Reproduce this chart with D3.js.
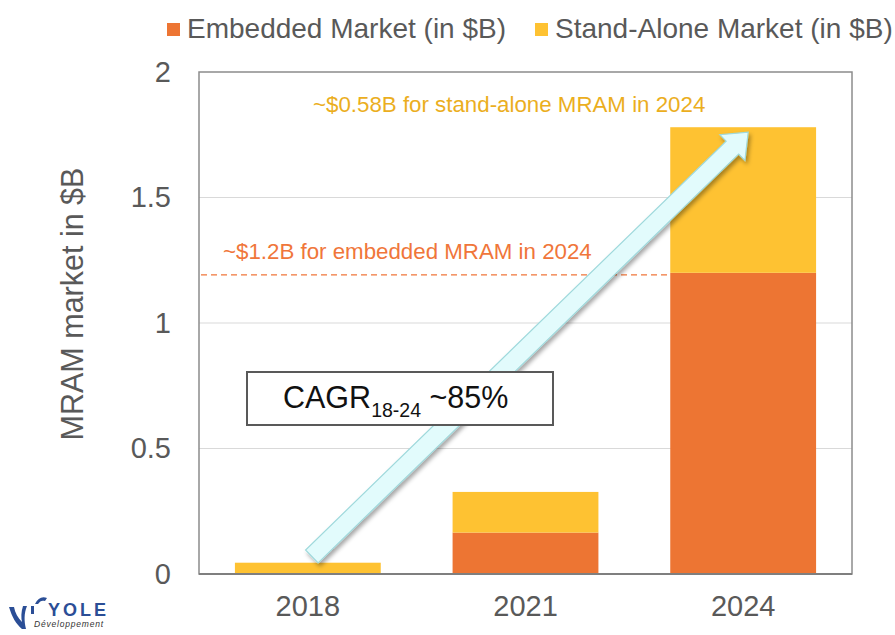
<!DOCTYPE html>
<html>
<head>
<meta charset="utf-8">
<script src="https://cdn.jsdelivr.net/npm/d3@7"></script>
<style>
  body { margin: 0; background: #fff; }
  svg { font-family: "Liberation Sans", Arial, sans-serif; }
</style>
</head>
<body>
<svg id="chart" width="895" height="635"></svg>
<script>
// data
const years = ["2018", "2021", "2024"];
const embedded = [0.0, 0.165, 1.2];
const standAlone = [0.045, 0.162, 0.58];
const seriesNames = ["Embedded Market (in $B)", "Stand-Alone Market (in $B)"];
const yTicks = [0, 0.5, 1, 1.5, 2];

const colors = ["#ED7533", "#FEC232"];
const textGray = "#595959";

let svg = d3.select("#chart");
let margin = {left: 199, right: 43, top: 72, bottom: 61};
let W = 895, H = 635;

let x = d3.scaleBand().domain(years).range([margin.left, W - margin.right]).paddingInner(0.33).paddingOuter(0.165);
let y = d3.scaleLinear().domain([0, 2]).range([H - margin.bottom, margin.top]);

// drop shadow for the arrow
let defs = svg.append("defs");
let f = defs.append("filter").attr("id", "shadow").attr("x", "-20%").attr("y", "-20%").attr("width", "140%").attr("height", "140%");
f.append("feDropShadow").attr("dx", 2).attr("dy", 3).attr("stdDeviation", 2).attr("flood-color", "#000").attr("flood-opacity", 0.35);

// gridlines
svg.append("g").selectAll("line").data(yTicks.filter(d => d > 0 && d < 2)).join("line")
  .attr("x1", margin.left).attr("x2", W - margin.right)
  .attr("y1", d => y(d)).attr("y2", d => y(d))
  .attr("stroke", "#d9d9d9").attr("stroke-width", 1.2);

// stacked bars
let stacked = d3.stack().keys([0, 1]).value((d, k) => d[k])(years.map((yr, i) => [embedded[i], standAlone[i]]));
svg.append("g").selectAll("g").data(stacked).join("g")
  .attr("fill", (d, i) => colors[i])
  .selectAll("rect").data(d => d).join("rect")
  .attr("x", (d, i) => x(years[i]))
  .attr("width", x.bandwidth())
  .attr("y", d => y(d[1]))
  .attr("height", d => y(d[0]) - y(d[1]));

// frame
svg.append("rect")
  .attr("x", margin.left).attr("y", margin.top)
  .attr("width", W - margin.left - margin.right).attr("height", H - margin.top - margin.bottom)
  .attr("fill", "none").attr("stroke", "#8c8c8c").attr("stroke-width", 1.5);
svg.append("line")
  .attr("x1", margin.left).attr("x2", W - margin.right)
  .attr("y1", y(0)).attr("y2", y(0))
  .attr("stroke", "#7f7f7f").attr("stroke-width", 2);

// axes
let yAxis = svg.append("g")
  .attr("transform", `translate(${margin.left - 28},0)`)
  .call(d3.axisLeft(y).tickValues(yTicks).tickSize(0).tickPadding(0).tickFormat(d3.format("")));
yAxis.select(".domain").remove();
yAxis.selectAll("text").attr("font-size", 29).attr("fill", textGray).attr("font-family", "Liberation Sans, Arial, sans-serif");

let xAxis = svg.append("g")
  .attr("transform", `translate(0,${y(0)})`)
  .call(d3.axisBottom(x).tickSize(0).tickPadding(21));
xAxis.select(".domain").remove();
xAxis.selectAll("text").attr("font-size", 29).attr("fill", textGray).attr("font-family", "Liberation Sans, Arial, sans-serif");

// y title
svg.append("text")
  .attr("transform", `translate(83,304) rotate(-90)`)
  .attr("text-anchor", "middle")
  .attr("font-size", 30.5).attr("fill", textGray)
  .text("MRAM market in $B");

// legend
let legendX = [167, 535];
let legend = svg.append("g").selectAll("g").data(seriesNames).join("g")
  .attr("transform", (d, i) => `translate(${legendX[i]},0)`);
legend.append("rect").attr("x", 0).attr("y", 23).attr("width", 13).attr("height", 13).attr("fill", (d, i) => colors[i]);
legend.append("text").attr("x", 20).attr("y", 38).attr("font-size", 28).attr("fill", textGray).text(d => d);

// embedded 2024 dashed marker
svg.append("line")
  .attr("x1", margin.left + 2).attr("x2", x("2024"))
  .attr("y1", y(embedded[2]) + 2).attr("y2", y(embedded[2]) + 2)
  .attr("stroke", "#F0763A").attr("stroke-width", 1.3).attr("stroke-dasharray", "6,4");
svg.append("text")
  .attr("x", 223).attr("y", 259)
  .attr("font-size", 22.3).attr("fill", "#F0763A")
  .text("~$1.2B for embedded MRAM in 2024");
svg.append("text")
  .attr("x", 313).attr("y", 112)
  .attr("font-size", 22.3).attr("fill", "#EBAE1E")
  .text("~$0.58B for stand-alone MRAM in 2024");

// growth arrow from 2018 to 2024
let tail = [x("2018") + x.bandwidth() / 2 + 4, y(0.07)];
let tip = [x("2024") + x.bandwidth() / 2 + 5, y(1.76)];
let dx = tip[0] - tail[0], dy = tip[1] - tail[1];
let len = Math.hypot(dx, dy);
let u = [dx / len, dy / len], n = [-u[1], u[0]];
let sw = 9, hw = 18, hl = 22;
let base = [tip[0] - u[0] * hl, tip[1] - u[1] * hl];
let pt = (p, k) => [p[0] + n[0] * k, p[1] + n[1] * k];
let arrowPts = [pt(tail, sw), pt(base, sw), pt(base, hw), tip, pt(base, -hw), pt(base, -sw), pt(tail, -sw)];
svg.append("path")
  .attr("d", d3.line()(arrowPts) + "Z")
  .attr("fill", "#E2FBFC").attr("stroke", "#9FD9DC").attr("stroke-width", 1.2)
  .attr("filter", "url(#shadow)");

// CAGR box
svg.append("rect")
  .attr("x", 247).attr("y", 372).attr("width", 306).attr("height", 53)
  .attr("fill", "#fff").attr("stroke", "#595959").attr("stroke-width", 2);
let cagr = svg.append("text").attr("x", 283).attr("y", 408).attr("font-size", 30.5).attr("fill", "#111");
cagr.append("tspan").text("CAGR");
cagr.append("tspan").attr("font-size", 19.5).attr("dy", 9).text("18-24");
cagr.append("tspan").attr("dy", -9).text(" ~85%");

// logo
let logo = svg.append("g");
logo.append("path")
  .attr("d", "M9,607 C12,617 16,624 22,629 L26,629 C24,621 24,613 27,606 L23,606 C21,612 21,618 22,622 C18,618 15,613 14,607 Z")
  .attr("fill", "#2B4E96");
logo.append("path")
  .attr("d", "M31,606 L31,614 L34,614 L34,606 Z M35,604 C38,598 42,596 47,598 L45,601 C42,600 40,601 38,604 Z")
  .attr("fill", "#2B4E96");
logo.append("text").attr("x", 48).attr("y", 616).attr("font-size", 18).attr("font-weight", "bold")
  .attr("letter-spacing", 3).attr("fill", "#2B4E96").text("YOLE");
logo.append("text").attr("x", 34).attr("y", 627).attr("font-size", 8.5).attr("font-style", "italic")
  .attr("letter-spacing", 0.8).attr("fill", "#333").text("Développement");
</script>
</body>
</html>
